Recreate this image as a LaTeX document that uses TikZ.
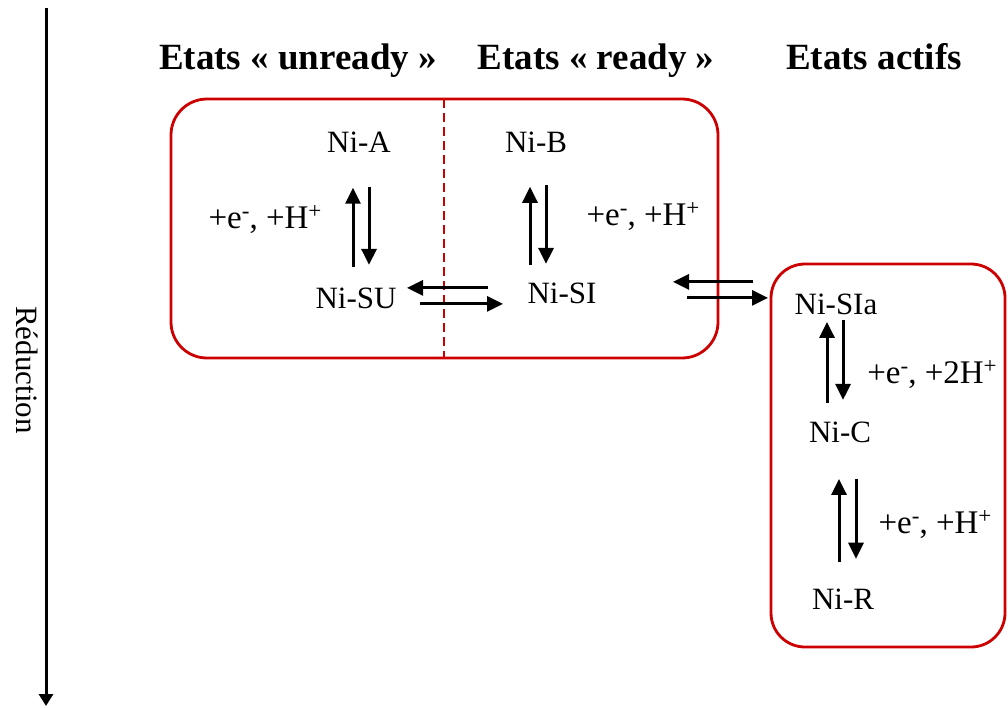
\documentclass[tikz,border=0pt]{standalone}
\usepackage{fontspec}
\setmainfont{Liberation Serif}
\usetikzlibrary{arrows.meta,calc}
\definecolor{boxred}{RGB}{204,0,0}
\newcommand\myraised[1]{\raisebox{10pt}{\fontsize{23}{23}\selectfont #1}}
\begin{document}
\begin{tikzpicture}[x=1pt,y=-1pt,
  lbl/.style={inner sep=0pt, anchor=base, font=\fontsize{31}{31}\selectfont},
  eq/.style={inner sep=0pt, anchor=base, font=\fontsize{33}{33}\selectfont},
  hdr/.style={inner sep=0pt, anchor=base, font=\fontsize{37}{37}\selectfont\bfseries},
  arr/.style={line width=3pt, -{Triangle[length=16pt,width=15pt]}},
  statebox/.style={draw=boxred, line width=2.8pt, rounded corners=36pt}]
\useasboundingbox (0,0) rectangle (1008,707);

% axis
\coordinate (ax1) at (46,8);
\coordinate (ax2) at (46,706);
\draw[line width=3pt,-{Triangle[length=12pt,width=14pt]}] (ax1) -- (ax2);
\node[lbl, rotate=-90, anchor=center] (red) at (27,370) {Réduction};

% headers
\node[hdr] (h1) at (298,69) {Etats « unready »};
\node[hdr] (h2) at (596,69) {Etats « ready »};
\node[hdr] (h3) at (874,69) {Etats actifs};

% boxes
\draw[statebox] (171,99) rectangle (718,358);
\draw[boxred, line width=2.8pt, dash pattern=on 9pt off 5pt] (444,99) -- (444,358);
\draw[statebox, rounded corners=34pt] (771,264) rectangle (1005,647);

% states
\node[lbl] (A) at (359,152) {Ni-A};
\node[lbl] (B) at (536,152) {Ni-B};
\node[lbl] (SU) at (356,308) {Ni-SU};
\node[lbl] (SI) at (562,303) {Ni-SI};
\node[lbl] (SIa) at (836,314) {Ni-SIa};
\node[lbl] (C) at (840,442) {Ni-C};
\node[lbl] (R) at (843,609) {Ni-R};

% labels
\node[eq] (l1) at (265,228) {+e\myraised{-}, +H\myraised{+}};
\node[eq] (l2) at (643,225) {+e\myraised{-}, +H\myraised{+}};
\node[eq] (l3) at (932,383) {+e\myraised{-}, +2H\myraised{+}};
\node[eq] (l4) at (935,533) {+e\myraised{-}, +H\myraised{+}};

% arrows
\draw[arr] ($(SU)+(-3,-31)$) -- ($(A)+(-6,46)$);
\draw[arr] ($(A)+(10,45)$) -- ($(SU)+(13,-33)$);
\draw[arr] ($(SI)+(-32,-28)$) -- ($(B)+(-6,45)$);
\draw[arr] ($(B)+(10,43)$) -- ($(SI)+(-16,-29)$);
\draw[arr] ($(SI)+(-74,-5)$) -- ($(SU)+(51,-10)$);
\draw[arr] ($(SU)+(64,6)$) -- ($(SI)+(-59,11)$);
\draw[arr] ($(SIa)+(-83,-22)$) -- ($(SI)+(111,-11)$);
\draw[arr] ($(SI)+(125,5)$) -- ($(SIa)+(-68,-6)$);
\draw[arr] ($(C)+(-13,-29)$) -- ($(SIa)+(-9,18)$);
\draw[arr] ($(SIa)+(7,16)$) -- ($(C)+(3,-32)$);
\draw[arr] ($(R)+(-4,-37)$) -- ($(C)+(-1,47)$);
\draw[arr] ($(C)+(16,47)$) -- ($(R)+(13,-40)$);
\end{tikzpicture}
\end{document}
